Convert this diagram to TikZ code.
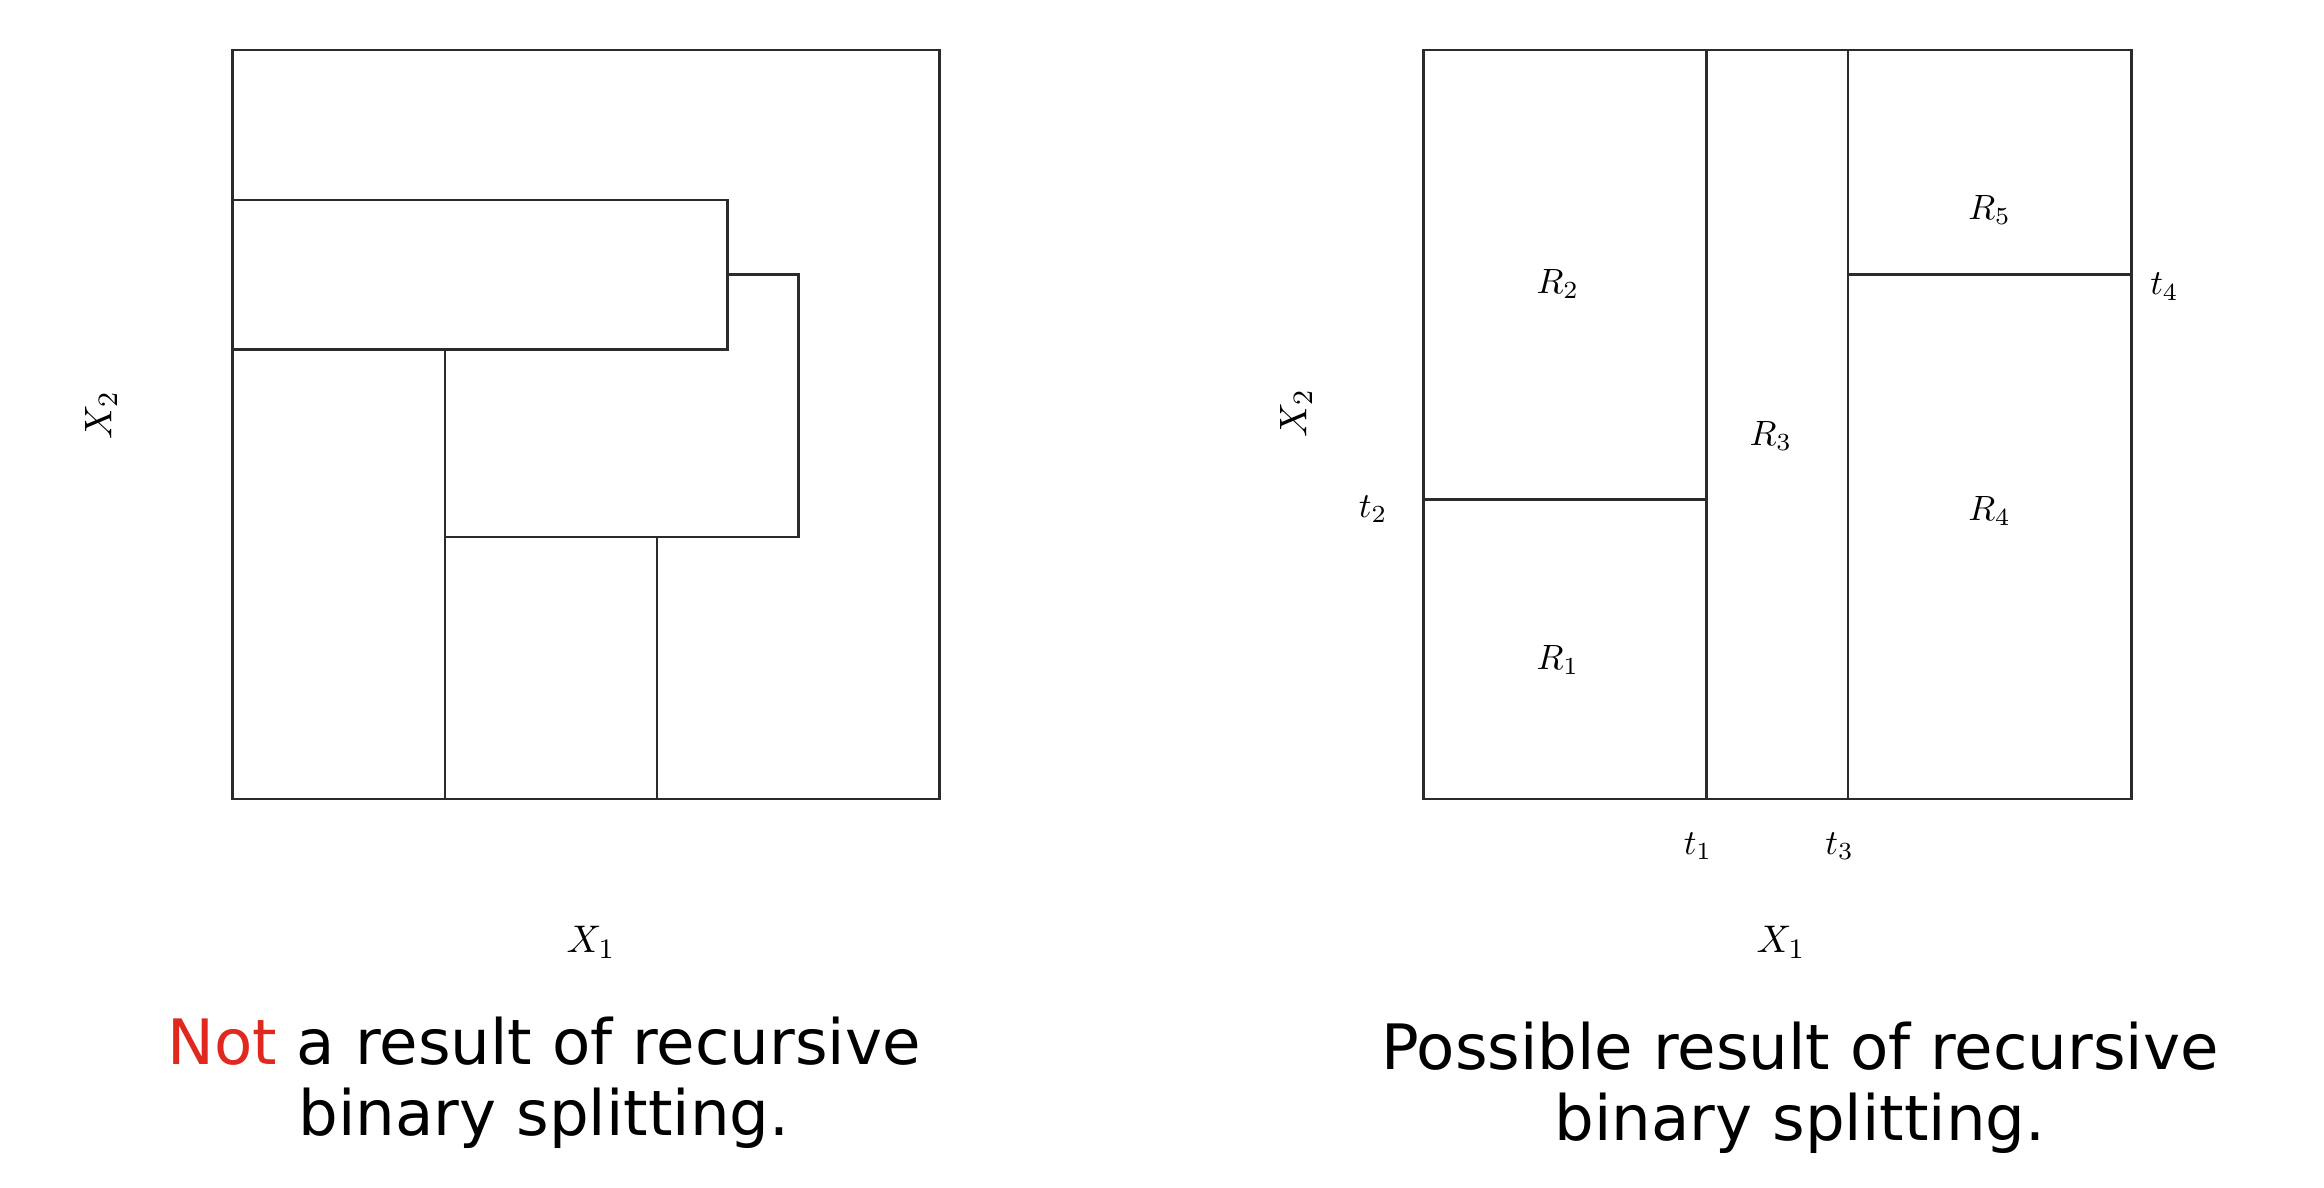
\documentclass[tikz,border=0pt]{standalone}
\usepackage{fontspec}
\newfontfamily\captionfont{DejaVu Sans}
\usetikzlibrary{positioning}
\definecolor{splitink}{HTML}{2B2B2B}
\definecolor{notred}{HTML}{E0281F}

\begin{document}
\begin{tikzpicture}[
  x=0.01cm, y=0.01cm,
  frame/.style={draw=splitink,line width=0.8pt},
  cut/.style={draw=splitink,line width=0.75pt},
  region/.style={inner sep=0pt,font=\normalsize},
  tick/.style={inner sep=0pt,font=\normalsize},
  axislab/.style={inner sep=0pt,font=\fontsize{11}{13}\selectfont},
  caption/.style={inner sep=0pt,anchor=north,align=center,font=\captionfont\fontsize{17.8}{20.3}\selectfont}
]
\useasboundingbox (0,0) rectangle (2324,1188);

% left panel: not from recursive splits
\begin{scope}[shift={(232.8,389)},x=7.066cm,y=7.485cm]
  \draw[frame] (0,0) rectangle (1,1);
  \draw[cut] (0,0.6) rectangle (0.7,0.8);
  \draw[cut] (0.7,0.7) -| (0.8,0.35) -- (0.3,0.35);
  \draw[cut] (0.3,0) -- (0.3,0.6);
  \draw[cut] (0.6,0) -- (0.6,0.35);
\end{scope}
\node[axislab] (x1L) at (591,246) {$X_1$};
\node[axislab,rotate=90] (x2L) at (101,773) {$X_2$};

% right panel: five regions
\begin{scope}[shift={(1423.3,389)},x=7.075cm,y=7.485cm]
  \draw[frame] (0,0) rectangle (1,1);
  \draw[cut] (0.4,0) -- (0.4,1);
  \draw[cut] (0.6,0) -- (0.6,1);
  \draw[cut] (0,0.4) -- (0.4,0.4);
  \draw[cut] (0.6,0.7) -- (1,0.7);
  \node[region] (r1) at (0.19,0.186) {$R_1$};
  \node[region] (r2) at (0.19,0.688) {$R_2$};
  \node[region] (r3) at (0.491,0.485) {$R_3$};
  \node[region] (r4) at (0.8,0.385) {$R_4$};
  \node[region] (r5) at (0.8,0.786) {$R_5$};
  \node[tick] (t1) at (0.388,-0.063) {$t_1$};
  \node[tick] (t2) at (-0.071,0.387) {$t_2$};
  \node[tick] (t3) at (0.588,-0.063) {$t_3$};
  \node[tick] (t4) at (1.047,0.684) {$t_4$};
\end{scope}
\node[axislab] (x1R) at (1781,246) {$X_1$};
\node[axislab,rotate=90] (x2R) at (1296,775) {$X_2$};

\node[caption] (capL) at (544,172) {{\color{notred}Not} a result of recursive\\binary splitting.};
\node[caption] (capR) at (1800,167) {Possible result of recursive\\binary splitting.};
\end{tikzpicture}
\end{document}
